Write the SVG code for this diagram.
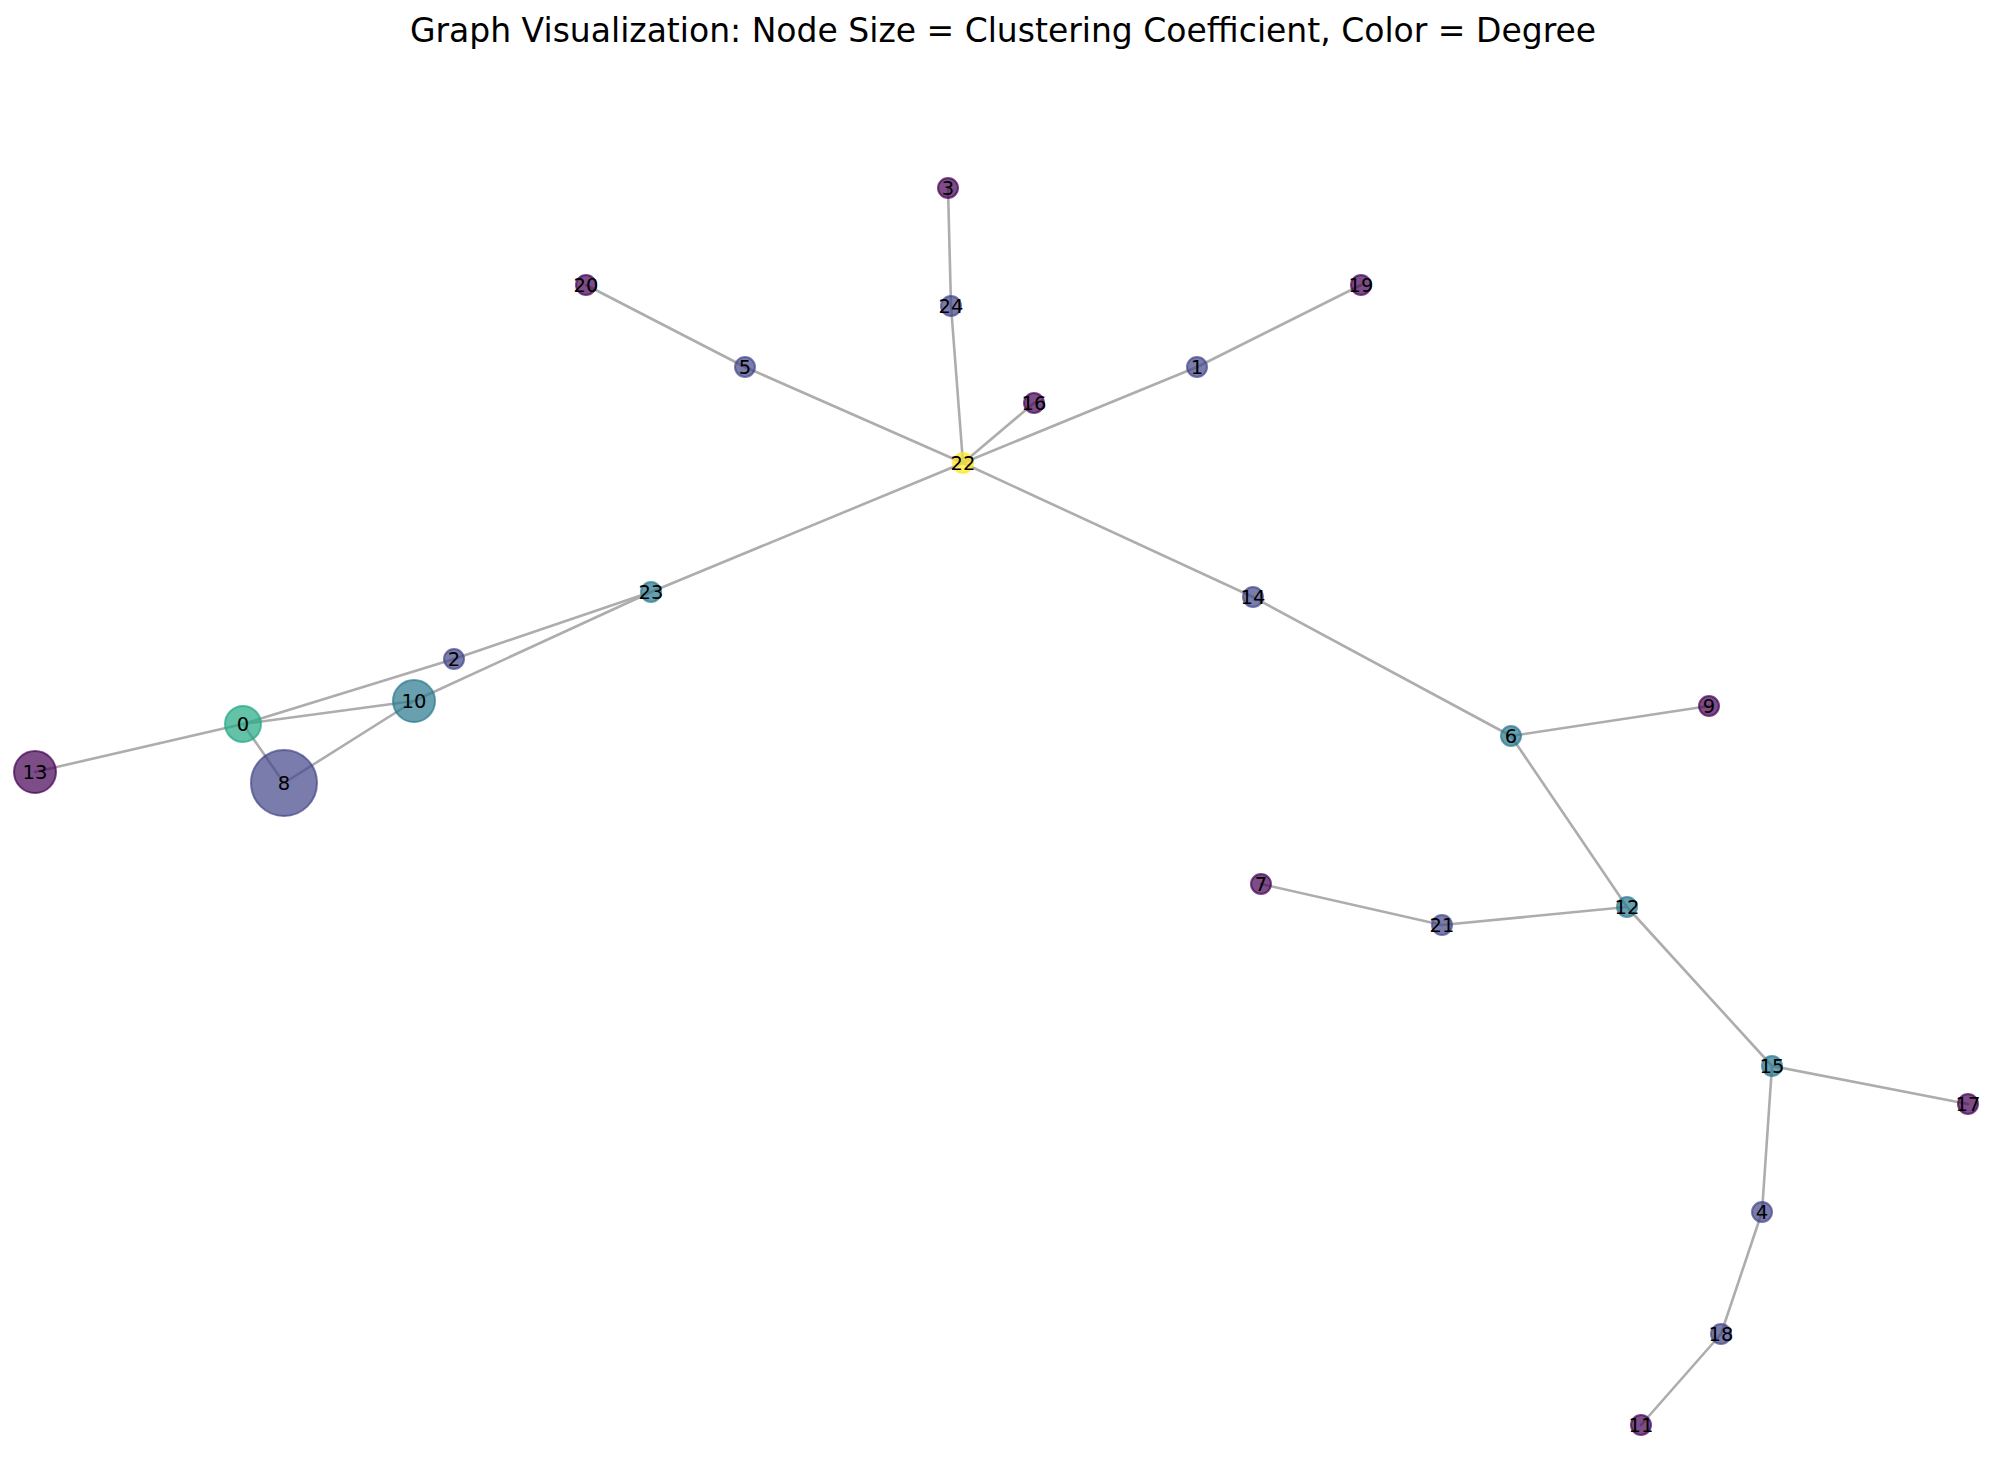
<svg xmlns="http://www.w3.org/2000/svg" width="2006" height="1462" viewBox="0 0 2006 1462">
<style>
.e line{stroke:#adadad;stroke-width:2.6;stroke-linecap:round}
.n circle{stroke-width:2}
.d1{fill:#440154;stroke:#440154;fill-opacity:0.7;stroke-opacity:0.7}
.d2{fill:#414487;stroke:#414487;fill-opacity:0.7;stroke-opacity:0.7}
.d3{fill:#2a788e;stroke:#2a788e;fill-opacity:0.7;stroke-opacity:0.7}
.d4{fill:#22a884;stroke:#22a884;fill-opacity:0.7;stroke-opacity:0.7}
.d6{fill:#fde725;stroke:#fde725;fill-opacity:0.7;stroke-opacity:0.7}
.n text{font-family:"DejaVu Sans",sans-serif;font-size:19.5px;fill:#000;text-anchor:middle}
.title{font-family:"DejaVu Sans",sans-serif;font-size:33px;fill:#000;text-anchor:middle}
</style>
<rect width="2006" height="1462" fill="#ffffff"/>
<text class="title" x="1003" y="42">Graph Visualization: Node Size = Clustering Coefficient, Color = Degree</text>
<g id="edges" class="e">
<line x1="243" y1="724" x2="35" y2="772"/>
<line x1="243" y1="724" x2="284" y2="783"/>
<line x1="243" y1="724" x2="414" y2="701"/>
<line x1="243" y1="724" x2="454" y2="659"/>
<line x1="284" y1="783" x2="414" y2="701"/>
<line x1="414" y1="701" x2="651" y2="592"/>
<line x1="454" y1="659" x2="651" y2="592"/>
<line x1="651" y1="592" x2="963" y2="463"/>
<line x1="963" y1="463" x2="745" y2="367"/>
<line x1="745" y1="367" x2="586" y2="285"/>
<line x1="963" y1="463" x2="951" y2="306"/>
<line x1="951" y1="306" x2="948" y2="188"/>
<line x1="963" y1="463" x2="1034" y2="403"/>
<line x1="963" y1="463" x2="1197" y2="367"/>
<line x1="1197" y1="367" x2="1361" y2="285"/>
<line x1="963" y1="463" x2="1253" y2="597"/>
<line x1="1253" y1="597" x2="1511" y2="736"/>
<line x1="1511" y1="736" x2="1709" y2="706"/>
<line x1="1511" y1="736" x2="1627" y2="907"/>
<line x1="1627" y1="907" x2="1442" y2="925"/>
<line x1="1442" y1="925" x2="1261" y2="884"/>
<line x1="1627" y1="907" x2="1772" y2="1066"/>
<line x1="1772" y1="1066" x2="1968" y2="1104"/>
<line x1="1772" y1="1066" x2="1762" y2="1212"/>
<line x1="1762" y1="1212" x2="1721" y2="1334"/>
<line x1="1721" y1="1334" x2="1641" y2="1425"/>
</g>
<g id="node-0" class="n"><circle class="d4" cx="243" cy="724" r="18"/><text x="243" y="724" dy="0.36em">0</text></g>
<g id="node-13" class="n"><circle class="d1" cx="35" cy="772" r="21"/><text x="35" y="772" dy="0.36em">13</text></g>
<g id="node-8" class="n"><circle class="d2" cx="284" cy="783" r="33"/><text x="284" y="783" dy="0.36em">8</text></g>
<g id="node-10" class="n"><circle class="d3" cx="414" cy="701" r="21"/><text x="414" y="701" dy="0.36em">10</text></g>
<g id="node-2" class="n"><circle class="d2" cx="454" cy="659" r="10"/><text x="454" y="659" dy="0.36em">2</text></g>
<g id="node-23" class="n"><circle class="d3" cx="651" cy="592" r="10"/><text x="651" y="592" dy="0.36em">23</text></g>
<g id="node-22" class="n"><circle class="d6" cx="963" cy="463" r="10"/><text x="963" y="463" dy="0.36em">22</text></g>
<g id="node-5" class="n"><circle class="d2" cx="745" cy="367" r="10"/><text x="745" y="367" dy="0.36em">5</text></g>
<g id="node-20" class="n"><circle class="d1" cx="586" cy="285" r="10"/><text x="586" y="285" dy="0.36em">20</text></g>
<g id="node-24" class="n"><circle class="d2" cx="951" cy="306" r="10"/><text x="951" y="306" dy="0.36em">24</text></g>
<g id="node-3" class="n"><circle class="d1" cx="948" cy="188" r="10"/><text x="948" y="188" dy="0.36em">3</text></g>
<g id="node-16" class="n"><circle class="d1" cx="1034" cy="403" r="10"/><text x="1034" y="403" dy="0.36em">16</text></g>
<g id="node-1" class="n"><circle class="d2" cx="1197" cy="367" r="10"/><text x="1197" y="367" dy="0.36em">1</text></g>
<g id="node-19" class="n"><circle class="d1" cx="1361" cy="285" r="10"/><text x="1361" y="285" dy="0.36em">19</text></g>
<g id="node-14" class="n"><circle class="d2" cx="1253" cy="597" r="10"/><text x="1253" y="597" dy="0.36em">14</text></g>
<g id="node-6" class="n"><circle class="d3" cx="1511" cy="736" r="10"/><text x="1511" y="736" dy="0.36em">6</text></g>
<g id="node-9" class="n"><circle class="d1" cx="1709" cy="706" r="10"/><text x="1709" y="706" dy="0.36em">9</text></g>
<g id="node-12" class="n"><circle class="d3" cx="1627" cy="907" r="10"/><text x="1627" y="907" dy="0.36em">12</text></g>
<g id="node-21" class="n"><circle class="d2" cx="1442" cy="925" r="10"/><text x="1442" y="925" dy="0.36em">21</text></g>
<g id="node-7" class="n"><circle class="d1" cx="1261" cy="884" r="10"/><text x="1261" y="884" dy="0.36em">7</text></g>
<g id="node-15" class="n"><circle class="d3" cx="1772" cy="1066" r="10"/><text x="1772" y="1066" dy="0.36em">15</text></g>
<g id="node-17" class="n"><circle class="d1" cx="1968" cy="1104" r="10"/><text x="1968" y="1104" dy="0.36em">17</text></g>
<g id="node-4" class="n"><circle class="d2" cx="1762" cy="1212" r="10"/><text x="1762" y="1212" dy="0.36em">4</text></g>
<g id="node-18" class="n"><circle class="d2" cx="1721" cy="1334" r="10"/><text x="1721" y="1334" dy="0.36em">18</text></g>
<g id="node-11" class="n"><circle class="d1" cx="1641" cy="1425" r="10"/><text x="1641" y="1425" dy="0.36em">11</text></g>
</svg>
